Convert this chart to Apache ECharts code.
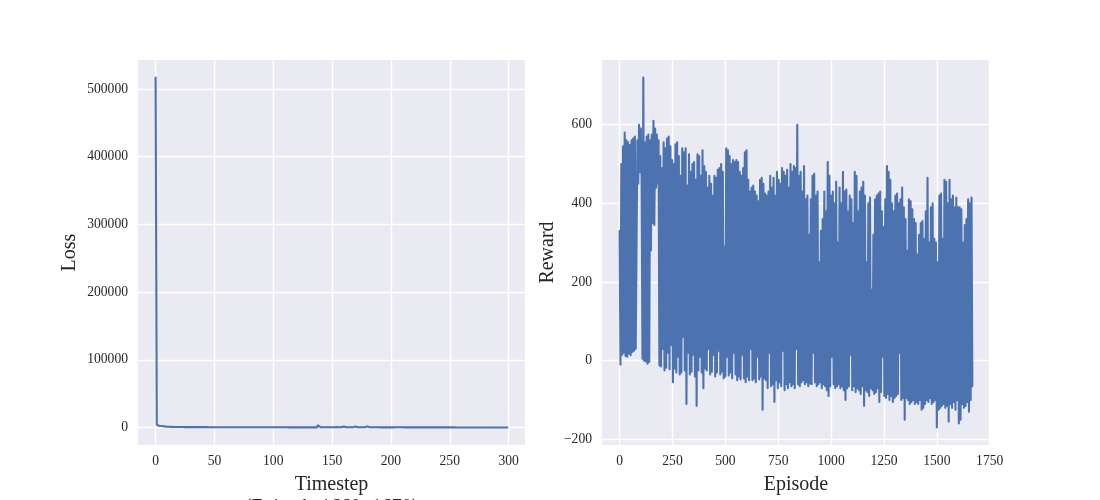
<!DOCTYPE html>
<html>
<head>
<meta charset="utf-8">
<script src="https://cdn.jsdelivr.net/npm/echarts@6/dist/echarts.min.js"></script>
<style>
html,body{margin:0;padding:0;background:#fff;}
#chart{width:1100px;height:500px;}
</style>
</head>
<body>
<div id="chart"></div>
<script>
// ---- Data ----
const lossValues = [
517000, 4000, 2800, 2500, 2400, 2200, 2000, 1800, 1500, 1300, 1200, 1100, 1000, 950, 900, 850, 800, 780, 1400, 760,
720, 700, 690, 680, 650, 640, 630, 620, 610, 600, 590, 585, 580, 575, 570, 560, 555, 550, 545, 540,
540, 535, 530, 525, 520, 520, 515, 510, 510, 505, 500, 500, 495, 490, 490, 485, 480, 480, 475, 470,
470, 465, 460, 460, 455, 450, 450, 445, 440, 440, 435, 430, 430, 425, 420, 420, 415, 410, 410, 405,
400, 400, 395, 390, 390, 385, 380, 380, 375, 370, 370, 365, 360, 360, 355, 350, 350, 345, 340, 340,
335, 330, 330, 325, 320, 320, 315, 310, 310, 305, 300, 300, 295, 290, 290, 285, 280, 280, 275, 270,
270, 265, 260, 260, 255, 250, 250, 245, 240, 240, 235, 230, 230, 225, 220, 220, 215, 210, 3200, 900,
600, 500, 450, 420, 400, 390, 380, 370, 360, 350, 340, 330, 320, 1800, 700, 500, 450, 420, 400, 390,
1500, 600, 450, 420, 400, 380, 370, 360, 350, 340, 1400, 550, 420, 390, 370, 360, 350, 340, 330, 320,
1700, 600, 450, 400, 380, 360, 350, 340, 330, 320, 310, 300, 295, 290, 285, 280, 275, 270, 265, 260,
255, 250, 245, 1300, 500, 400, 360, 340, 320, 310, 300, 290, 285, 280, 275, 270, 265, 260, 255, 250,
245, 240, 235, 230, 228, 225, 222, 220, 218, 215, 212, 210, 208, 205, 202, 200, 198, 195, 192, 190,
188, 185, 182, 180, 178, 175, 172, 170, 168, 165, 162, 160, 158, 155, 152, 150, 148, 145, 142, 140,
138, 135, 132, 130, 128, 125, 122, 120, 118, 115, 112, 110, 108, 105, 102, 100, 98, 95, 92, 90,
88, 85, 82, 80, 78, 75, 72, 70, 68, 65, 62, 60, 58, 55, 52, 50, 48, 45, 42, 40
];

// Reward sampled every 4 episodes (episode = index * episodeStep)
const episodeStep = 4;
const rewardValues = [
// ep 0-76
330, -10, 500, 15, 545, 20, 580, 12, 560, 10, 555, 18, 548, 14, 560, 22, 565, 25, 570, 30,
// ep 80-104 (high only)
300, 560, 450, 600, 480, 590, 460,
// ep 108-144
5, 720, 0, 555, -2, 570, -8, 575, -3, 560,
// ep 148-184 (high only)
280, 575, 350, 610, 345, 590, 440, 575, 450, 560,
// ep 188 onwards
-12, 520, -15, 490, 30, 555, -25, 540, -18, 565,
20, 570, -22, 545, 40, 510, -55, 500, -20, 550,
-30, 555, 10, 520, -35, 470, -30, 540, 60, 530,
-25, 540, -110, 445, 20, 525, -35, 480, -28, 500,
15, 505, -40, 460, -115, 525, -25, 520, 10, 470,
-30, 535, -70, 495, -20, 480, -25, 440, 30, 470,
-35, 450, -28, 420, 15, 470, -40, 465, -30, 485,
25, 490, -35, 500, -28, 480, -45, 290, -40, 540,
10, 535, -38, 520, -30, 500, -45, 510, 20, 505,
-35, 510, -50, 505, -40, 480, -48, 470, 15, 490,
-45, 530, -55, 535, -40, 460, -50, 430, 30, 440,
-50, 445, -45, 430, -55, 420, 10, 405, -48, 460,
-40, 465, -125, 450, -45, 425, -50, 420, -70, 430,
20, 470, -65, 440, -60, 465, -105, 420, -50, 480,
-70, 460, -55, 450, -65, 490, 25, 480, -75, 470,
-60, 485, -70, 440, -55, 500, -65, 480, -60, 495,
-70, 490, 30, 600, -60, 470, -65, 480, -55, 430,
-50, 495, -60, 410, -55, 420, -65, 320, -58, 410,
-60, 470, 20, 475, -55, 420, -65, 430, -60, 250,
-55, 330, -70, 360, -60, 430, -65, 380, -75, 505,
-90, 470, -65, 420, 10, 430, -60, 400, -70, 455,
-65, 300, -60, 440, -70, 400, -65, 480, -75, 430,
-100, 435, -70, 380, -65, 420, 15, 410, -75, 350,
-65, 480, -80, 470, -70, 380, -75, 430, -85, 440,
-65, 455, -115, 420, -75, 250, -80, 400, -90, 415,
-70, 180, -75, 320, -85, 410, -80, 420, -70, 425,
-105, 430, -80, 380, 10, 340, -90, 410, -95, 495,
-85, 480, -100, 460, -90, 400, -105, 380, -95, 420,
-90, 425, -85, 400, 20, 410, -100, 440, -95, 390,
-150, 360, -95, 280, -100, 410, -110, 405, -105, 385,
-100, 360, -110, 350, -105, 270, -110, 320, -100, 350,
-125, 355, -120, 310, -110, 380, -100, 465, -105, 300,
-95, 390, -110, 400, -105, 310, -100, 300, -170, 250,
-125, 420, -120, 425, -115, 310, -110, 460, -120, 455,
-115, 400, -155, 460, -110, 410, -120, 420, -105, 390,
-125, 415, -100, 390, -160, 390, -150, 385, -110, 300,
-120, 345, -115, 360, -105, 410, -130, 400, -100, 415,
-65
];

const lossTicks = [0, 50, 100, 150, 200, 250, 300];
const rewardEpisodeTicks = [0, 250, 500, 750, 1000, 1250, 1500, 1750];

// ---- Build chart ----
const FONT = '"Liberation Serif", "Times New Roman", "DejaVu Serif", serif';
const TXT = '#262626';
const lineColor = '#4C72B0';

const lossData = lossValues.map((v, i) => [i, v]);
const rewardData = rewardValues.map((v, i) => [i * episodeStep, v]);

function pad(min, max) { const r = max - min; return [min - 0.05 * r, max + 0.05 * r]; }
const lossX = pad(0, lossValues.length - 1);
const lossY = pad(Math.min(...lossValues), Math.max(...lossValues));
const rewX = pad(0, (rewardValues.length - 1) * episodeStep);
const rewY = pad(Math.min(...rewardValues), Math.max(...rewardValues));

const fmt = v => (v < 0 ? '\u2212' + Math.abs(v) : String(v));

function axisCommon(interval, extent, isX, nameTxt, nameGap) {
  return {
    type: 'value',
    min: extent[0], max: extent[1],
    minInterval: interval, maxInterval: interval,
    axisLine: { show: false },
    axisTick: { show: false },
    splitLine: { show: true, showMinLine: false, showMaxLine: false, lineStyle: { color: '#ffffff', width: 1.4 } },
    axisLabel: {
      showMinLabel: false, showMaxLabel: false,
      color: TXT, fontFamily: FONT, fontSize: 13.6,
      margin: isX ? 9 : 10,
      formatter: fmt
    },
    name: nameTxt,
    nameLocation: 'middle',
    nameGap: nameGap,
    nameTextStyle: { color: TXT, fontFamily: FONT, fontSize: 20, lineHeight: 23 }
  };
}

const chart = echarts.init(document.getElementById('chart'), null, { renderer: 'canvas' });
chart.setOption({
  backgroundColor: '#ffffff',
  animation: false,
  grid: [
    { left: 138, top: 60, width: 387, height: 385, show: true, backgroundColor: '#EAEAF2', borderWidth: 0, containLabel: false, outerBoundsMode: 'none' },
    { left: 602, top: 60, width: 388, height: 385, show: true, backgroundColor: '#EAEAF2', borderWidth: 0, containLabel: false, outerBoundsMode: 'none' }
  ],
  xAxis: [
    Object.assign(axisCommon(50, lossX, true, 'Timestep\n(Episode 1660~1670)', 24), { gridIndex: 0 }),
    Object.assign(axisCommon(250, rewX, true, 'Episode', 24), { gridIndex: 1 })
  ],
  yAxis: [
    Object.assign(axisCommon(100000, lossY, false, 'Loss', 57), { gridIndex: 0 }),
    Object.assign(axisCommon(200, rewY, false, 'Reward', 43), { gridIndex: 1 })
  ],
  series: [
    { type: 'line', xAxisIndex: 0, yAxisIndex: 0, data: lossData, showSymbol: false, symbol: 'none',
      lineStyle: { color: lineColor, width: 2.1, join: 'round', cap: 'round' }, sampling: null },
    { type: 'line', xAxisIndex: 1, yAxisIndex: 1, data: rewardData, showSymbol: false, symbol: 'none',
      lineStyle: { color: lineColor, width: 2.1, join: 'round', cap: 'round' } }
  ]
});
</script>
</body>
</html>
